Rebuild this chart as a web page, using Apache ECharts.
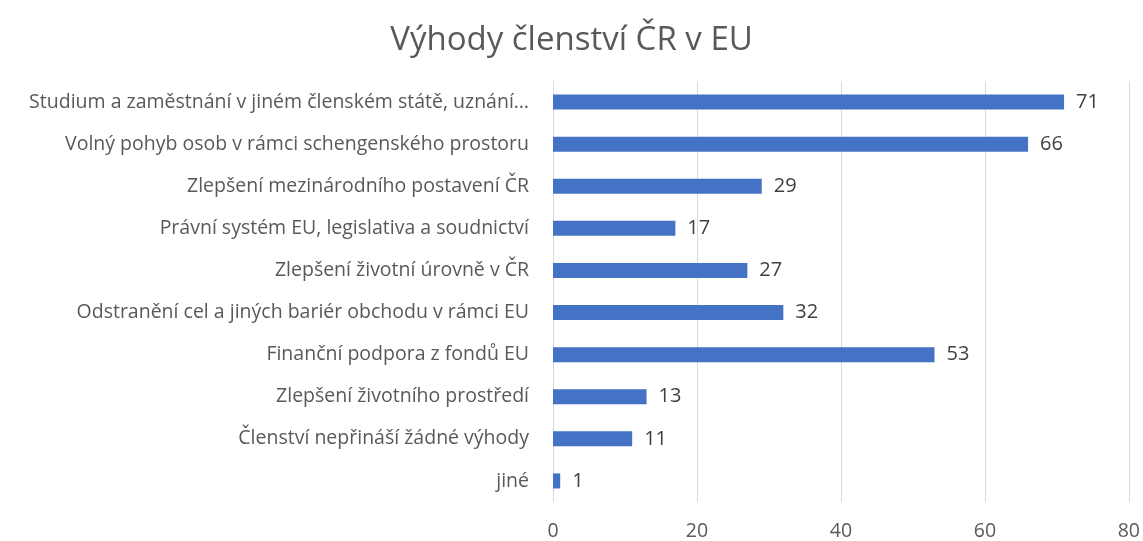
<html>
<head>
<meta charset="utf-8">
<title></title>
<script src="https://cdn.jsdelivr.net/npm/echarts@6/dist/echarts.min.js"></script>
</head>
<body style="margin:0">
<div id="main" style="width:1143px;height:541px;"></div>
<script>
var categories = [
    'Studium a zaměstnání v jiném členském státě, uznání…',
    'Volný pohyb osob v rámci schengenského prostoru',
    'Zlepšení mezinárodního postavení ČR',
    'Právní systém EU, legislativa a soudnictví',
    'Zlepšení životní úrovně v ČR',
    'Odstranění cel a jiných bariér obchodu v rámci EU',
    'Finanční podpora z fondů EU',
    'Zlepšení životního prostředí',
    'Členství nepřináší žádné výhody',
    'jiné'
];
var values = [71, 66, 29, 17, 27, 32, 53, 13, 11, 1];

var myChart = echarts.init(document.getElementById('main'));
var option = {
    title: {
        text: 'Výhody členství ČR v EU',
        left: 'center',
        top: 19,
        textStyle: {fontFamily: 'Open Sans', fontSize: 33, fontWeight: 'normal', color: '#595959'}
    },
    grid: {left: 553, right: 13, top: 81, bottom: 39},
    xAxis: {
        type: 'value',
        min: 0, max: 80, interval: 20,
        axisLine: {show: false},
        axisTick: {show: false},
        splitLine: {lineStyle: {color: '#d9d9d9', width: 1}},
        axisLabel: {fontFamily: 'Open Sans', fontSize: 19.5, color: '#595959', margin: 19}
    },
    yAxis: {
        type: 'category',
        inverse: true,
        data: categories,
        axisLine: {lineStyle: {color: '#d9d9d9'}},
        axisTick: {show: false},
        axisLabel: {fontFamily: 'Open Sans', fontSize: 19.5, color: '#595959', margin: 24}
    },
    series: [{
        type: 'bar',
        data: values,
        barWidth: 15,
        itemStyle: {color: '#4472C4'},
        label: {show: true, position: 'right', distance: 12, fontFamily: 'Open Sans', fontSize: 20, color: '#404040'}
    }]
};
myChart.setOption(option);
</script>
</body>
</html>
